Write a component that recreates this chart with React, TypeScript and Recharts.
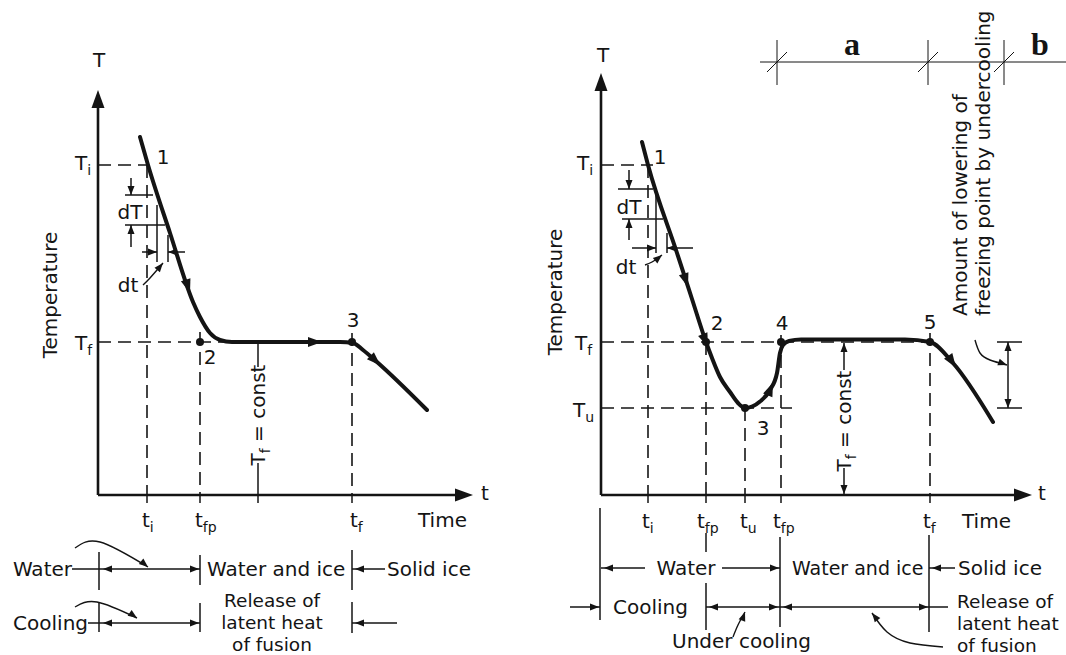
import { LineChart, Line, XAxis, YAxis, ReferenceLine, ReferenceDot } from 'recharts';

// sketch units: time t along the axis, temperature T above the time axis (5px per unit)
const INK = '#141414';
const SANS = '"DejaVu Sans", "Liberation Sans", sans-serif';
const T_DOMAIN = [-32, 99];

// ---- left sketch: plain freezing
const freezeTime = [8.4, 10, 14.4, 19, 20.4, 22.4, 24.4, 26.8, 48.4, 51, 53, 55.8, 65.8];
const freezeTemp = [71.6, 66, 52.4, 38.6, 35.6, 32.4, 31, 30.6, 30.6, 30.4, 29, 26.6, 17];
const freezeLevels = { Ti: 66, Tf: 30.6 };
const freezeTimes = { ti: 9.8, tfp: 20.4, tc: 32, tf: 50.8 };

// ---- right sketch: freezing with undercooling
const underTime = [8.2, 9.4, 15.2, 18.2, 21, 22.2, 23.8, 25.8, 27.4, 28.8, 31.8, 33.8, 35.2, 35.8, 36.4, 37.6, 40, 60.8, 65.8, 70.4, 78.4];
const underTemp = [70.6, 66, 48.4, 39.2, 30.6, 27.4, 23.6, 20.6, 18.4, 17.4, 18.7, 21, 24.4, 28.4, 30, 30.8, 31.1, 31.1, 30.6, 26.4, 14.6];
const underLevels = { Ti: 66, Tf: 30.6, Tu: 17.4 };
const underTimes = { ti: 9.4, tfp1: 21, tu: 28.8, tfp2: 36, tc: 48.6, tf: 65.8 };

type Pt = { t: number; T: number };
type Seg = [number, number, number, number, ('axis' | 'dash' | 'line' | 'thin')?];
type Head = [number, number, number, ('big' | 'mid' | 'small')?];
type Note = {
  at: [number, number];
  text: string;
  sub?: string;
  after?: string;
  anchor?: 'start' | 'middle' | 'end';
  mid?: boolean;
  rotate?: number;
  dy?: number;
  size?: number;
  serif?: boolean;
};

const zip = (ts: number[], vs: number[]): Pt[] => ts.map((t, i) => ({ t, T: vs[i] }));
const pts = (arr: number[][]): Pt[] => arr.map(([t, T]) => ({ t, T }));

const L = freezeLevels;
const LT = freezeTimes;
const leftSegs: Seg[] = [
  [0, 0, 0, 79, 'axis'],
  [0, 0, 72, 0, 'axis'],
  [0, L.Ti, LT.ti, L.Ti, 'dash'],
  [LT.ti, L.Ti, LT.ti, 0, 'dash'],
  [0, L.Tf, LT.tf + 1, L.Tf, 'dash'],
  [LT.tfp, 32.6, LT.tfp, 0, 'dash'],
  [LT.tf, 32.4, LT.tf, 0, 'dash'],
  [LT.tc, L.Tf, LT.tc, 25.6],
  [LT.tc, 6.4, LT.tc, 0],
  [LT.ti, 0, LT.ti, -1.6],
  [LT.tfp, 0, LT.tfp, -1.6],
  [LT.tc, 0, LT.tc, -1.6],
  [LT.tf, 0, LT.tf, -1.6],
  // dT / dt construction
  [5.4, 60, 11, 60],
  [5.4, 54, 13.4, 54],
  [6.6, 63.4, 6.6, 60],
  [6.6, 49.6, 6.6, 54],
  [11.8, 58, 11.8, 46.6],
  [14, 52, 14, 46.6],
  [8.8, 48.6, 11.8, 48.6],
  [17.4, 48.6, 14, 48.6],
  // phase rows under the axis
  [-5.2, -14.8, LT.tfp, -14.8],
  [0.2, -11.4, 0.2, -19],
  [LT.tfp, -12, LT.tfp, -18],
  [LT.tf, -11, LT.tf, -19],
  [LT.tf, -14.8, 57.4, -14.8],
  [-2, -25.6, LT.tfp, -25.6],
  [0.2, -21.4, 0.2, -27.4],
  [LT.tfp, -21.6, LT.tfp, -27.4],
  [LT.tf, -21.4, LT.tf, -27.6],
  [LT.tf, -25.6, 59.8, -25.6],
];
const leftHeads: Head[] = [
  [0, 81, -90, 'big'],
  [75, 0, 0, 'big'],
  [18.4, 40.4, 72, 'mid'],
  [44.8, 30.6, 0, 'mid'],
  [56.5, 25.9, 44, 'mid'],
  [6.6, 60, 90],
  [6.6, 54, -90],
  [11.8, 48.6, 0],
  [14, 48.6, 180],
  [13, 46.4, -50],
  [1, -14.8, 180],
  [20.2, -14.8, 0],
  [51.4, -14.8, 180],
  [1, -25.6, 180],
  [20.2, -25.6, 0],
  [51.4, -25.6, 180],
  [10, -14.4, 40],
  [7.8, -24.6, 35],
];
const leftDots: number[][] = [[LT.tfp, L.Tf], [LT.tf, L.Tf]];
const leftPointers: Pt[][] = [
  pts([[9, 42], [10.4, 43.4], [13, 46.4]]),
  pts([[-4.6, -10.6], [0.4, -9.4], [10, -14.4]]),
  pts([[-4.6, -22.4], [-0.2, -21.4], [7.8, -24.6]]),
];
const leftNotes: Note[] = [
  { at: [0.2, 87], text: 'T', anchor: 'middle', mid: true },
  { at: [76.6, 0.4], text: 't', mid: true },
  { at: [-4.6, 65], text: 'T', sub: 'i' },
  { at: [-4.6, 29], text: 'T', sub: 'f' },
  { at: [-9.6, 40], text: 'Temperature', anchor: 'middle', mid: true, rotate: -90 },
  { at: [13, 67.6], text: '1', anchor: 'middle', mid: true },
  { at: [22.4, 27.6], text: '2', anchor: 'middle', mid: true },
  { at: [51, 35], text: '3', anchor: 'middle', mid: true },
  { at: [6.4, 56.6], text: 'dT', anchor: 'middle', mid: true },
  { at: [6, 42], text: 'dt', anchor: 'middle', mid: true },
  { at: [8.8, -6.4], text: 't', sub: 'i' },
  { at: [19.4, -6.4], text: 't', sub: 'fp' },
  { at: [50.4, -6.4], text: 't', sub: 'f' },
  { at: [64, -6.4], text: 'Time' },
  { at: [LT.tc, 16], text: 'T', sub: 'f', after: ' = const', anchor: 'middle', rotate: -90, dy: 7 },
  { at: [-5.2, -14.8], text: 'Water', anchor: 'end', mid: true },
  { at: [21.8, -14.8], text: 'Water and ice', mid: true },
  { at: [57.8, -14.8], text: 'Solid ice', mid: true },
  { at: [-2, -25.6], text: 'Cooling', anchor: 'end', mid: true },
  { at: [34.8, -21], text: 'Release of', anchor: 'middle', mid: true, size: 18.5 },
  { at: [34.8, -25.4], text: 'latent heat', anchor: 'middle', mid: true, size: 18.5 },
  { at: [34.8, -29.8], text: 'of fusion', anchor: 'middle', mid: true, size: 18.5 },
];

const R = underLevels;
const RT = underTimes;
const rightSegs: Seg[] = [
  [0, 0, 0, 82, 'axis'],
  [0, 0, 83, 0, 'axis'],
  [0, R.Ti, 10.4, R.Ti, 'dash'],
  [RT.ti, R.Ti, RT.ti, 0, 'dash'],
  [0, R.Tf, 67.8, R.Tf, 'dash'],
  [0, R.Tu, 38.2, R.Tu, 'dash'],
  [RT.tfp1, R.Tf, RT.tfp1, 0, 'dash'],
  [RT.tu, R.Tu, RT.tu, 0, 'dash'],
  [RT.tfp2, 32, RT.tfp2, 0, 'dash'],
  [RT.tf, 32.4, RT.tf, 0, 'dash'],
  [RT.tc, 30.4, RT.tc, 25],
  [RT.tc, 5.4, RT.tc, 0],
  [RT.ti, 0, RT.ti, -1.6],
  [RT.tfp1, 0, RT.tfp1, -1.6],
  [RT.tu, 0, RT.tu, -1.6],
  [RT.tfp2, 0, RT.tfp2, -1.6],
  [RT.tf, 0, RT.tf, -1.6],
  // dT / dt construction
  [3.4, 61.2, 10.4, 61.2],
  [4.2, 55.2, 12.4, 55.2],
  [5.6, 65, 5.6, 61.2],
  [5.6, 51, 5.6, 55.2],
  [11, 61.4, 11, 48.4],
  [13.2, 52.4, 13.2, 48.4],
  [6.2, 49.4, 11, 49.4],
  [18.4, 49.4, 13.2, 49.4],
  // amount of lowering
  [81.4, R.Tf, 81.4, R.Tu],
  [79.2, R.Tf, 84.2, R.Tf],
  [79.2, R.Tu, 84.2, R.Tu],
  // a / b scale on top
  [31.8, 86.6, 93, 86.6, 'thin'],
  [35.2, 91, 35.2, 82, 'thin'],
  [65.4, 91, 65.4, 82, 'thin'],
  [80.6, 91, 80.6, 82, 'thin'],
  [33.2, 84.6, 37.2, 88.6, 'thin'],
  [63.4, 84.6, 67.4, 88.6, 'thin'],
  [78.6, 84.6, 82.6, 88.6, 'thin'],
  // phase rows under the axis
  [-0.2, -2.6, -0.2, -25],
  [0, -14.6, 8.8, -14.6],
  [24.2, -14.6, 35.8, -14.6],
  [RT.tfp1, -7.6, RT.tfp1, -11.4],
  [RT.tfp1, -17.6, RT.tfp1, -27],
  [35.8, -8.4, 35.8, -26.4],
  [65.6, -8, 65.6, -27.4],
  [65.6, -14.6, 70.8, -14.6],
  [-6.2, -22.4, -0.2, -22.4],
  [RT.tfp1, -22.4, 69.4, -22.4],
];
const rightHeads: Head[] = [
  [0, 84.4, -90, 'big'],
  [86.2, 0, 0, 'big'],
  [17.4, 41.6, 72, 'mid'],
  [21.4, 29.6, 68, 'mid'],
  [34.4, 22.5, -68, 'mid'],
  [71, 25.5, 56, 'mid'],
  [RT.tc, 30.4, -90],
  [RT.tc, 0.2, 90],
  [5.6, 61.2, 90],
  [5.6, 55.2, -90],
  [11, 49.4, 0],
  [13.2, 49.4, 180],
  [12.2, 48, -40],
  [81.4, R.Tf, -90],
  [81.4, R.Tu, 90],
  [81.2, 26, 20],
  [0.6, -14.6, 180],
  [35.6, -14.6, 0],
  [66.2, -14.6, 180],
  [-0.4, -22.4, 0],
  [21.6, -22.4, 180],
  [35.4, -22.4, 0],
  [36.4, -22.4, 180],
  [65.4, -22.4, 0],
  [28.8, -23.4, -70],
  [54.2, -23.6, -128],
];
const rightDots: number[][] = [[RT.tfp1, R.Tf], [RT.tu, R.Tu], [RT.tfp2, R.Tf], [RT.tf, R.Tf]];
const rightPointers: Pt[][] = [
  pts([[8.8, 46], [10.2, 46.6], [12.2, 48]]),
  pts([[74.8, 31], [75.8, 28.4], [77.8, 27], [81.2, 26]]),
  pts([[26.4, -28.4], [27.4, -26], [28.8, -23.4]]),
  pts([[68.4, -30.4], [61.8, -29.6], [57.2, -27.4], [54.2, -23.6]]),
];
const rightNotes: Note[] = [
  { at: [0.4, 88], text: 'T', anchor: 'middle', mid: true },
  { at: [87.4, 0.4], text: 't', mid: true },
  { at: [-4.8, 65], text: 'T', sub: 'i' },
  { at: [-5.2, 29], text: 'T', sub: 'f' },
  { at: [-5.6, 15.6], text: 'T', sub: 'u' },
  { at: [-9.2, 40.6], text: 'Temperature', anchor: 'middle', mid: true, rotate: -90 },
  { at: [11.8, 67.6], text: '1', anchor: 'middle', mid: true },
  { at: [23.2, 34.4], text: '2', anchor: 'middle', mid: true },
  { at: [32.4, 13.4], text: '3', anchor: 'middle', mid: true },
  { at: [36.2, 34.4], text: '4', anchor: 'middle', mid: true },
  { at: [65.8, 34.6], text: '5', anchor: 'middle', mid: true },
  { at: [5.6, 57.6], text: 'dT', anchor: 'middle', mid: true },
  { at: [5, 45.6], text: 'dt', anchor: 'middle', mid: true },
  { at: [8.2, -6.6], text: 't', sub: 'i' },
  { at: [19.2, -6.6], text: 't', sub: 'fp' },
  { at: [27.8, -6.6], text: 't', sub: 'u' },
  { at: [34.4, -6.6], text: 't', sub: 'fp' },
  { at: [64.4, -6.6], text: 't', sub: 'f' },
  { at: [72.2, -6.6], text: 'Time' },
  { at: [RT.tc, 14.8], text: 'T', sub: 'f', after: ' = const', anchor: 'middle', rotate: -90, dy: 7 },
  { at: [73.2, 35.8], text: 'Amount of lowering of', rotate: -90 },
  { at: [77.8, 35.8], text: 'freezing point by undercooling', rotate: -90 },
  { at: [50.2, 88], text: 'a', anchor: 'middle', size: 32, serif: true },
  { at: [87.8, 88], text: 'b', anchor: 'middle', size: 32, serif: true },
  { at: [17, -14.6], text: 'Water', anchor: 'middle', mid: true },
  { at: [38.2, -14.6], text: 'Water and ice', mid: true, size: 19 },
  { at: [71.4, -14.6], text: 'Solid ice', mid: true },
  { at: [2.4, -22.4], text: 'Cooling', mid: true },
  { at: [71.2, -21.2], text: 'Release of', mid: true, size: 18.5 },
  { at: [71.2, -25.6], text: 'latent heat', mid: true, size: 18.5 },
  { at: [71.2, -30], text: 'of fusion', mid: true, size: 18.5 },
  { at: [14.2, -29.2], text: 'Under cooling', mid: true },
];

const segStyle = (kind?: string) => {
  if (kind === 'axis') return { strokeWidth: 2.6 };
  if (kind === 'dash') return { strokeWidth: 1.6, strokeDasharray: '13 7' };
  if (kind === 'thin') return { strokeWidth: 1 };
  return { strokeWidth: 1.5 };
};

const headSize = { big: [18, 6.5], mid: [14, 5], small: [9, 3.5] };

const headShape = (angle: number, size: 'big' | 'mid' | 'small') => (p: any) => {
  const [len, half] = headSize[size];
  return (
    <polygon
      points={`0,0 ${-len},${-half} ${-len},${half}`}
      transform={`translate(${p.cx},${p.cy}) rotate(${angle})`}
      fill={INK}
    />
  );
};

const noteShape = (n: Note) => (p: any) => {
  const size = n.size ?? 20;
  const subSize = Math.round(size * 0.72);
  return (
    <text
      x={p.cx}
      y={p.cy + (n.dy ?? 0)}
      textAnchor={n.anchor ?? 'start'}
      dominantBaseline={n.mid ? 'central' : undefined}
      transform={n.rotate ? `rotate(${n.rotate} ${p.cx} ${p.cy})` : undefined}
      fontFamily={n.serif ? '"Liberation Serif", serif' : SANS}
      fontWeight={n.serif ? 'bold' : 'normal'}
      fontSize={size}
      fill={INK}
    >
      {n.text}
      {n.sub && (
        <tspan dy={5} fontSize={subSize}>
          {n.sub}
        </tspan>
      )}
      {n.after && <tspan dy={-5}>{n.after}</tspan>}
    </text>
  );
};

type PanelProps = {
  width: number;
  tDomain: number[];
  curve: Pt[];
  segs: Seg[];
  heads: Head[];
  dots: number[][];
  pointers: Pt[][];
  notes: Note[];
};

const Panel = ({ width, tDomain, curve, segs, heads, dots, pointers, notes }: PanelProps) => (
  <LineChart width={width} height={655} margin={{ top: 0, right: 0, bottom: 0, left: 0 }}>
    <XAxis type="number" dataKey="t" domain={tDomain} allowDataOverflow hide />
    <YAxis type="number" domain={T_DOMAIN} allowDataOverflow hide />
    {segs.map(([t1, v1, t2, v2, kind], i) => (
      <ReferenceLine
        key={`s${i}`}
        segment={[{ x: t1, y: v1 }, { x: t2, y: v2 }]}
        stroke={INK}
        ifOverflow="visible"
        {...segStyle(kind)}
      />
    ))}
    {pointers.map((p, i) => (
      <Line
        key={`p${i}`}
        data={p}
        dataKey="T"
        type="natural"
        stroke={INK}
        strokeWidth={1.4}
        dot={false}
        activeDot={false}
        isAnimationActive={false}
      />
    ))}
    <Line
      data={curve}
      dataKey="T"
      type="monotone"
      stroke={INK}
      strokeWidth={4}
      strokeLinecap="round"
      dot={false}
      activeDot={false}
      isAnimationActive={false}
    />
    {heads.map(([t, v, a, s], i) => (
      <ReferenceDot key={`h${i}`} x={t} y={v} ifOverflow="visible" shape={headShape(a, s ?? 'small')} />
    ))}
    {dots.map(([t, v], i) => (
      <ReferenceDot key={`d${i}`} x={t} y={v} r={4} fill={INK} stroke="none" ifOverflow="visible" />
    ))}
    {notes.map((n, i) => (
      <ReferenceDot key={`n${i}`} x={n.at[0]} y={n.at[1]} ifOverflow="visible" shape={noteShape(n)} />
    ))}
  </LineChart>
);

export default function App() {
  return (
    <div style={{ position: 'absolute', left: 0, top: 0, width: 1066, height: 655, background: '#fff', display: 'flex' }}>
      <Panel
        width={540}
        tDomain={[-19.6, 88.4]}
        curve={zip(freezeTime, freezeTemp)}
        segs={leftSegs}
        heads={leftHeads}
        dots={leftDots}
        pointers={leftPointers}
        notes={leftNotes}
      />
      <Panel
        width={526}
        tDomain={[-12.2, 93]}
        curve={zip(underTime, underTemp)}
        segs={rightSegs}
        heads={rightHeads}
        dots={rightDots}
        pointers={rightPointers}
        notes={rightNotes}
      />
    </div>
  );
}
